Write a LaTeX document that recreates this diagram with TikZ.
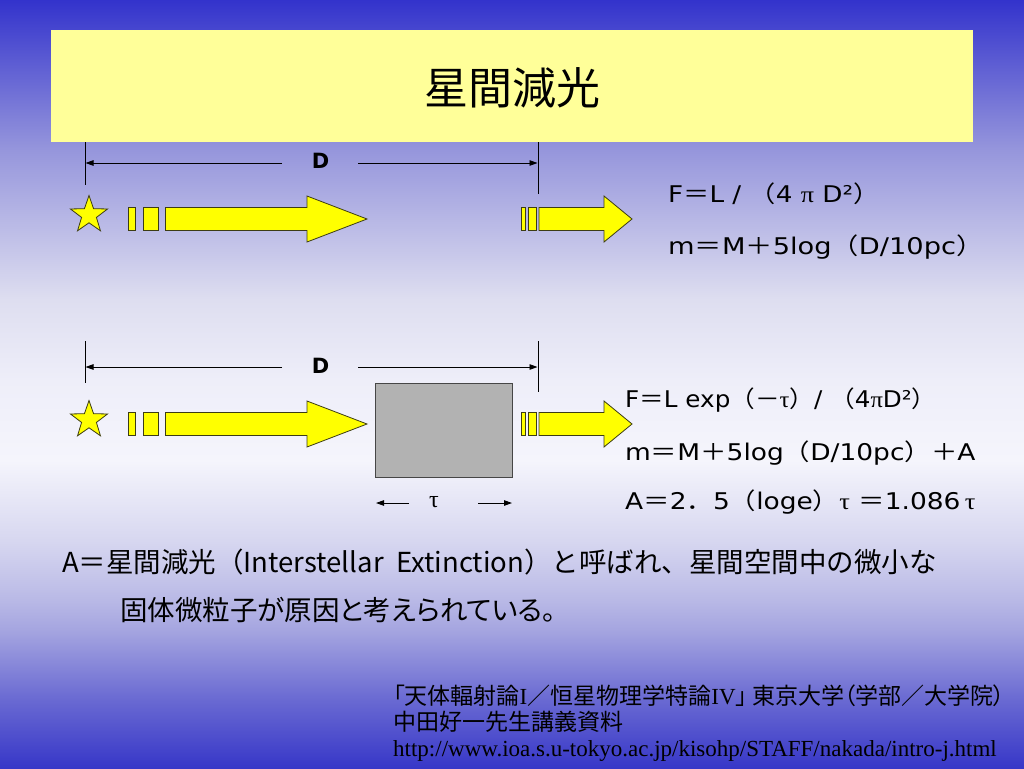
\documentclass[tikz,border=0pt]{standalone}
\usepackage{fontspec}
\usepackage{graphicx}
\setmainfont[RawFeature={+palt}]{Noto Sans CJK JP}
\newfontfamily\jp{Noto Sans CJK JP}
\newfontfamily\dv{DejaVu Sans}
\newfontfamily\gr{Liberation Serif}
\newfontfamily\tms{Liberation Serif}
\usetikzlibrary{shapes.geometric,arrows.meta}
\definecolor{b0}{RGB}{51,51,204}
\definecolor{b150}{RGB}{150,150,220}
\definecolor{b300}{RGB}{222,222,240}
\definecolor{b380}{RGB}{238,238,249}
\definecolor{b460}{RGB}{245,245,252}
\definecolor{b540}{RGB}{215,215,240}
\definecolor{b600}{RGB}{185,185,230}
\definecolor{b630}{RGB}{165,165,224}
\definecolor{b700}{RGB}{105,105,210}
\definecolor{b768}{RGB}{55,55,200}
\definecolor{titleyellow}{RGB}{255,255,153}
\definecolor{arrowyellow}{RGB}{255,255,0}
\definecolor{arrowedge}{RGB}{60,60,20}
\definecolor{boxgray}{RGB}{178,178,178}
\definecolor{boxedge}{RGB}{70,70,70}
\pgfdeclareverticalshading{slidebg}{100bp}{color(0bp)=(b768); color(25bp)=(b768); color(29.43bp)=(b700); color(33.98bp)=(b630); color(35.94bp)=(b600); color(39.84bp)=(b540); color(45.05bp)=(b460); color(50.26bp)=(b380); color(55.47bp)=(b300); color(65.23bp)=(b150); color(75bp)=(b0); color(100bp)=(b0)}
\tikzset{
  titlebox/.style={fill=titleyellow, draw=none, minimum width=922pt, minimum height=112pt, inner sep=0pt},
  ttltext/.style={anchor=base, inner sep=0pt, font=\fontsize{44}{48}\selectfont},
  dimline/.style={line width=0.9pt, black},
  dimarrow/.style={line width=0.9pt, black, -{Triangle[length=8pt,width=5.5pt]}},
  dimlabel/.style={inner sep=0pt, font=\fontsize{21}{24}\selectfont\dv\bfseries},
  starshape/.style={star, star points=5, star point ratio=2.5, minimum size=39pt, inner sep=0pt, fill=arrowyellow, draw=arrowedge, line width=0.8pt},
  ybar/.style={fill=arrowyellow, draw=arrowedge, line width=0.8pt, line join=miter},
  cloudbox/.style={fill=boxgray, draw=boxedge, line width=0.9pt, minimum width=137pt, minimum height=94.5pt, inner sep=0pt},
  fml/.style={anchor=base west, inner sep=0pt, font=\fontsize{23}{28}\selectfont\dv},
  bodytext/.style={anchor=base west, inner sep=0pt, font=\fontsize{27.5}{32}\selectfont\jp},
  bodytextp/.style={anchor=base west, inner sep=0pt, font=\fontsize{27.5}{32}\selectfont},
  foot/.style={anchor=base west, inner sep=0pt, font=\fontsize{23}{26}\selectfont},
  taulabel/.style={inner sep=0pt, font=\fontsize{24}{28}\selectfont\gr}
}
\begin{document}
\begin{tikzpicture}[x=1pt,y=-1pt]
\useasboundingbox (0,0) rectangle (1024,768);
\shade[shading=slidebg] (0,0) rectangle (1024,768);

% title
\node[titlebox] (tbox) at (512,86) {};
\node[ttltext] (ttl) at (512,104) {星間減光};

% dimension line 1
\node[dimlabel] (D1) at (320.5,160.5) {D};
\coordinate (v1lt) at (85,142); \coordinate (v1lb) at (85,185);
\coordinate (v1rt) at (538,142); \coordinate (v1rb) at (538,194);
\coordinate (h1l) at (85.5,163); \coordinate (h1lm) at (282,163);
\coordinate (h1rm) at (358,163); \coordinate (h1r) at (537.5,163);
\draw[dimline] (v1lt) -- (v1lb);
\draw[dimline] (v1rt) -- (v1rb);
\draw[dimarrow] (h1lm) -- (h1l);
\draw[dimarrow] (h1rm) -- (h1r);

% dimension line 2
\node[dimlabel] (D2) at (320.5,365.5) {D};
\coordinate (v2lt) at (85,341); \coordinate (v2lb) at (85,383);
\coordinate (v2rt) at (538,341); \coordinate (v2rb) at (538,392);
\coordinate (h2l) at (85.5,367); \coordinate (h2lm) at (282,367);
\coordinate (h2rm) at (358,367); \coordinate (h2r) at (537.5,367);
\draw[dimline] (v2lt) -- (v2lb);
\draw[dimline] (v2rt) -- (v2rb);
\draw[dimarrow] (h2lm) -- (h2l);
\draw[dimarrow] (h2rm) -- (h2r);

% stars
\node[starshape] (star1) at (89,215) {};
\node[starshape] (star2) at (89,420) {};

% yellow light arrows
\foreach \yc in {219,424}{
  \begin{scope}[shift={(0,\yc)}]
    \draw[ybar] (128,-11.5) rectangle (135.5,11.5);
    \draw[ybar] (143,-11.5) rectangle (158,11.5);
    \draw[ybar] (165.5,-11.5) -- (307,-11.5) -- (307,-23) -- (367,0) -- (307,23) -- (307,11.5) -- (165.5,11.5) -- cycle;
    \draw[ybar] (521.5,-11.5) rectangle (525.5,11.5);
    \draw[ybar] (528,-11.5) rectangle (536,11.5);
    \draw[ybar] (539,-11.5) -- (604,-11.5) -- (604,-23) -- (632,0) -- (604,23) -- (604,11.5) -- (539,11.5) -- cycle;
  \end{scope}
}

% dust cloud
\node[cloudbox] (cloud) at (443.5,430.5) {};
\node[taulabel] (tau) at (434,502) {τ};
\coordinate (tl1) at (409,503); \coordinate (tl2) at (376,503);
\coordinate (tr1) at (478,503); \coordinate (tr2) at (512,503);
\draw[dimarrow] (tl1) -- (tl2);
\draw[dimarrow] (tr1) -- (tr2);

% formulas
\node[fml] (f1a) at (668,202) {\scalebox{1.14}[1]{F{\jp ＝}L / {\jp （}4 {\gr π} D²{\jp ）}}};
\node[fml] (f1b) at (668,254) {\scalebox{1.185}[1]{m{\jp ＝}M{\jp ＋}5log{\jp （}D/10pc{\jp ）}}};
\node[fml] (f2a) at (625,407) {\scalebox{1.07}[1]{F{\jp ＝}L exp{\jp （－}{\gr τ}{\jp ）}/ {\jp （}4{\gr π}D²{\jp ）}}};
\node[fml] (f2b) at (625,460) {\scalebox{1.15}[1]{m{\jp ＝}M{\jp ＋}5log{\jp （}D/10pc{\jp ）＋}A}};
\node[fml] (f2c) at (625,509) {\scalebox{1.15}[1]{A{\jp ＝}2{\jp ．}5{\jp （}loge{\jp ）}{\gr τ}\ {\jp ＝}1.086\,{\gr τ}}};

% body text
\node[bodytext] (t1) at (62,572) {A＝星間減光（Interstellar\ \ Extinction）と呼ばれ、星間空間中の微小な};
\node[bodytextp] (t2) at (120,620) {固体微粒子が原因と考えられている。};

% footer
\node[foot] (c1) at (393,704) {「天体輻射論{\tms I}／恒星物理学特論{\tms IV}」\ 東京大学（学部／大学院）};
\node[foot] (c2) at (393,730) {中田好一先生講義資料};
\node[foot, font=\fontsize{23}{26}\selectfont\tms] (c3) at (393,756) {http://www.ioa.s.u-tokyo.ac.jp/kisohp/STAFF/nakada/intro-j.html};
\end{tikzpicture}
\end{document}
